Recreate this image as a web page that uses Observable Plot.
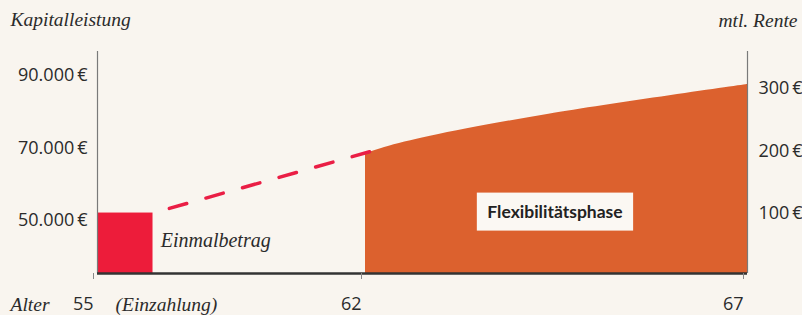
<!DOCTYPE html>
<html>
<head>
<meta charset="utf-8">
<script src="https://cdn.jsdelivr.net/npm/d3@7"></script>
<script src="https://cdn.jsdelivr.net/npm/@observablehq/plot@0.6"></script>
<style>
  html, body { margin: 0; padding: 0; background: #f9f5ef; }
  #chart { width: 802px; height: 315px; }
</style>
</head>
<body>
<div id="chart"></div>
<script>
// ---- data ----
const ageTicks = [55, 62, 67];
const kapitalTicks = [50000, 70000, 90000];
const renteTicks = [100, 200, 300];

// Einmalbetrag (single payment bar)
const einmalAges = [55, 56.45];
const einmalValue = 52000;

// projected growth (dashed)
const projAges = [56.45, 62.25];
const projValues = [52000, 70100];

// Flexibilitätsphase area
const flexAges = [62, 62.25, 62.85, 64.4, 67];
const flexValues = [68400, 70100, 73200, 79300, 87500];

// rente axis equivalence (in Kapital units)
const renteBase = 34640, renteFactor = 172.4;
const yMin = 35300, yMax = 98000;

const serif = "'Liberation Serif', 'DejaVu Serif', serif";
const sans = "'Open Sans', 'Noto Sans', sans-serif";
const ink = "#2b2b2b";

const fmtK = d => d3.format(",")(d).replace(/,/g, ".") + "\u2009€";

const flexData = flexAges.map((a, i) => ({age: a, value: flexValues[i]}));
const projData = projAges.map((a, i) => ({age: a, value: projValues[i]}));

const plot = Plot.plot({
  width: 802,
  height: 315,
  marginTop: 46,
  marginBottom: 42,
  marginLeft: 97,
  marginRight: 55,
  style: {background: "#f9f5ef", fontFamily: sans, fontSize: "18px", color: ink, overflow: "visible"},
  x: {type: "linear", domain: [55, 62, 67], range: [97, 365, 747]},
  y: {domain: [yMin, yMax]},
  marks: [
    Plot.areaY(flexData, {x: "age", y1: yMin, y2: "value", fill: "#dc612e", curve: "catmull-rom"}),
    Plot.rect([einmalValue], {x1: einmalAges[0], x2: einmalAges[1], y1: yMin, y2: d => d, fill: "#ed1c3a"}),
    Plot.line(projData, {x: "age", y: "value", stroke: "#ea1e45", strokeWidth: 3.5, strokeDasharray: "18,20", strokeDashoffset: 21}),
    // axis lines
    Plot.ruleX([55, 67], {y1: yMin, y2: yMax, stroke: "#7a7a7a", strokeWidth: 1.2, insetBottom: -5}),
    Plot.ruleY([yMin], {x1: 55, x2: 67, stroke: "#333", strokeWidth: 2.6}),
    Plot.axisX(ageTicks, {anchor: "bottom", tickSize: 6, tickPadding: 18, stroke: "#888", label: null,
      textAnchor: "end", dx: -4, fontSize: 18, fill: ink, tickFormat: d => String(d)}),
    Plot.axisY(kapitalTicks, {anchor: "left", tickSize: 0, tickPadding: 10, tickFormat: fmtK, fontSize: 18, fill: ink, label: null}),
    Plot.text(renteTicks, {x: 67, y: r => renteBase + r * renteFactor, text: r => r + "\u2009€",
      textAnchor: "start", dx: 11, fontSize: 18, fill: ink}),
    // labels
    Plot.text(["Einmalbetrag"], {x: 56.65, y: 44430, textAnchor: "start", fontFamily: serif, fontStyle: "italic", fontSize: 20, fill: ink}),
    Plot.text(["Flexibilitätsphase"], {x: 64.48, y: 52150, fontFamily: "Lato, sans-serif", fontWeight: "bold", fontSize: 17.5, fill: "#222"}),
    Plot.text(["Kapitalleistung"], {frameAnchor: "top-left", textAnchor: "start", lineAnchor: "middle", dx: -87, dy: -27, fontFamily: serif, fontStyle: "italic", fontSize: 19.5, fill: ink}),
    Plot.text(["mtl. Rente"], {frameAnchor: "top-right", textAnchor: "end", lineAnchor: "middle", dx: 50, dy: -26, fontFamily: serif, fontStyle: "italic", fontSize: 19.5, fill: ink}),
    Plot.text(["Alter"], {frameAnchor: "bottom-left", textAnchor: "start", lineAnchor: "middle", dx: -87, dy: 31, fontFamily: serif, fontStyle: "italic", fontSize: 19.5, fill: ink}),
    Plot.text(["(Einzahlung)"], {frameAnchor: "bottom-left", textAnchor: "start", lineAnchor: "middle", dx: 18, dy: 31, fontFamily: serif, fontStyle: "italic", fontSize: 19.5, fill: ink})
  ]
});
document.getElementById("chart").append(plot);

// white box behind "Flexibilitätsphase"
plot.querySelectorAll("text").forEach(t => {
  if (t.textContent === "Flexibilitätsphase") {
    const b = t.getBBox();
    const cx = b.x + b.width / 2, cy = b.y + b.height / 2;
    const w = b.width + 21, h = 38;
    const r = document.createElementNS("http://www.w3.org/2000/svg", "rect");
    r.setAttribute("x", cx - w / 2);
    r.setAttribute("y", cy - h / 2);
    r.setAttribute("width", w);
    r.setAttribute("height", h);
    r.setAttribute("fill", "#fbf8f3");
    const tr = t.getAttribute("transform");
    if (tr) r.setAttribute("transform", tr);
    t.parentNode.insertBefore(r, t);
  }
});
</script>
</body>
</html>
